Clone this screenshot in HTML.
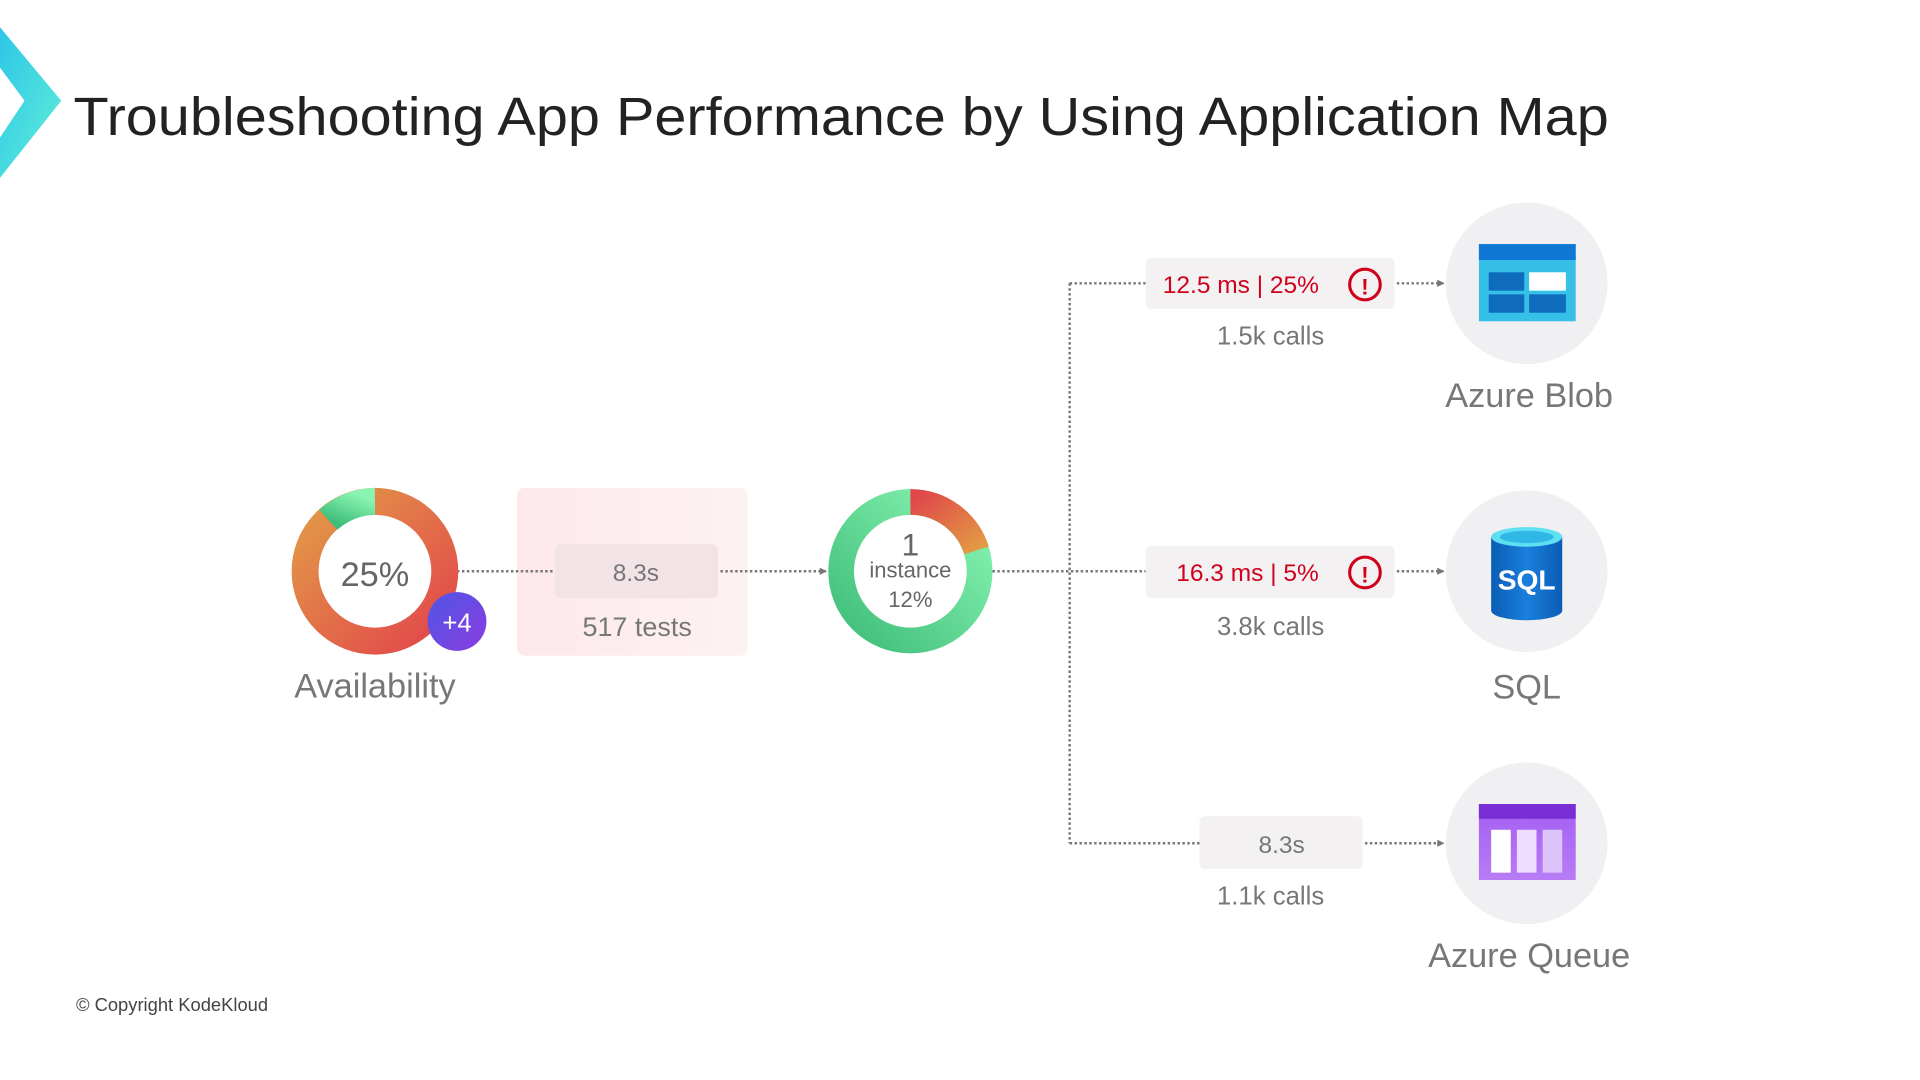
<!DOCTYPE html>
<html><head><meta charset="utf-8"><style>
html,body{margin:0;padding:0;background:#fff;width:1920px;height:1080px;overflow:hidden}
svg{display:block}
text{font-family:"Liberation Sans",sans-serif}
</style></head><body>
<svg width="1920" height="1080" viewBox="0 0 1567 881" xmlns="http://www.w3.org/2000/svg">
<defs>
<linearGradient id="chev" x1="0" y1="0" x2="1" y2="1"><stop offset="0" stop-color="#2ec5e8"/><stop offset="1" stop-color="#5ff0d8"/></linearGradient>
<linearGradient id="avail" x1="0" y1="0" x2="1" y2="1"><stop offset="0" stop-color="#e29a48"/><stop offset="1" stop-color="#e2464a"/></linearGradient>
<linearGradient id="grn" x1="0" y1="1" x2="1" y2="0"><stop offset="0" stop-color="#3ebd7a"/><stop offset="1" stop-color="#8af5b2"/></linearGradient>
<linearGradient id="red2" x1="0" y1="0" x2="1" y2="1"><stop offset="0" stop-color="#e0484a"/><stop offset="1" stop-color="#e39a44"/></linearGradient>
<linearGradient id="pur" x1="0" y1="0" x2="1" y2="1"><stop offset="0" stop-color="#4f56e6"/><stop offset="1" stop-color="#8a3ce0"/></linearGradient>
<linearGradient id="pink" x1="0" y1="0" x2="1" y2="0"><stop offset="0" stop-color="#fde8ec"/><stop offset="1" stop-color="#fdf2f2"/></linearGradient>
<linearGradient id="sqlg" x1="0" y1="0" x2="1" y2="0"><stop offset="0" stop-color="#0a5db5"/><stop offset="0.5" stop-color="#1a7fdc"/><stop offset="1" stop-color="#0a5db5"/></linearGradient>
<linearGradient id="qg" x1="0" y1="0" x2="0" y2="1"><stop offset="0" stop-color="#a35ef2"/><stop offset="1" stop-color="#b77cf5"/></linearGradient>
<marker id="ar" markerWidth="6" markerHeight="6" refX="5" refY="3" orient="auto" markerUnits="userSpaceOnUse"><path d="M0,0 L6,3 L0,6z" fill="#777"/></marker>
</defs>

<polygon points="0,22 50,82 0,145 0,112 20,82 0,55" fill="url(#chev)"/>
<text x="60" y="110" font-size="44" fill="#222" textLength="1253" lengthAdjust="spacingAndGlyphs">Troubleshooting App Performance by Using Application Map</text>

<rect x="422" y="398" width="188" height="137" rx="6" fill="url(#pink)"/>

<g stroke="#777" stroke-width="2" stroke-dasharray="2,2" fill="none">
<line x1="373" y1="466" x2="453" y2="466"/>
<line x1="588" y1="466" x2="674" y2="466" marker-end="url(#ar)"/>
<line x1="810" y1="466" x2="935" y2="466"/>
<line x1="873" y1="231" x2="873" y2="688"/>
<line x1="873" y1="231" x2="935" y2="231"/>
<line x1="873" y1="688" x2="979" y2="688"/>
<line x1="1140" y1="231" x2="1178" y2="231" marker-end="url(#ar)"/>
<line x1="1140" y1="466" x2="1178" y2="466" marker-end="url(#ar)"/>
<line x1="1114" y1="688" x2="1178" y2="688" marker-end="url(#ar)"/>
</g>

<circle cx="306" cy="466" r="57" fill="none" stroke="url(#avail)" stroke-width="22"/>
<path d="M306,409 A57,57 0 0 0 268,424" fill="none" stroke="url(#grn)" stroke-width="22"/>
<text x="306" y="478" font-size="28" fill="#666" text-anchor="middle">25%</text>
<circle cx="373" cy="507" r="24" fill="url(#pur)"/>
<text x="373" y="515" font-size="21" fill="#fff" text-anchor="middle">+4</text>
<text x="306" y="569" font-size="28" fill="#777" text-anchor="middle">Availability</text>

<rect x="453" y="444" width="133" height="44" rx="5" fill="#f1e3e6"/>
<text x="519" y="474" font-size="20" fill="#777" text-anchor="middle">8.3s</text>
<text x="520" y="519" font-size="22" fill="#777" text-anchor="middle">517 tests</text>

<circle cx="743" cy="466" r="56.5" fill="none" stroke="url(#grn)" stroke-width="21"/>
<path d="M743,409.5 A56.5,56.5 0 0 1 797,449" fill="none" stroke="url(#red2)" stroke-width="21"/>
<text x="743" y="453" font-size="26" fill="#666" text-anchor="middle">1</text>
<text x="743" y="471" font-size="18" fill="#666" text-anchor="middle">instance</text>
<text x="743" y="495" font-size="18" fill="#666" text-anchor="middle">12%</text>

<rect x="935" y="210" width="203" height="42" rx="4" fill="#f3f1f2"/>
<text x="949" y="239" font-size="20" fill="#d0021b">12.5 ms | 25%</text>
<circle cx="1114" cy="232" r="12.5" fill="none" stroke="#d0021b" stroke-width="2.5"/>
<text x="1114" y="240" font-size="18" font-weight="bold" fill="#d0021b" text-anchor="middle">!</text>
<text x="1037" y="281" font-size="21" fill="#777" text-anchor="middle">1.5k calls</text>
<circle cx="1246" cy="231" r="66" fill="#f0eff1"/>
<rect x="1207" y="199" width="79" height="63" fill="#36c0e8"/>
<rect x="1207" y="199" width="79" height="13" fill="#0f78d4"/>
<rect x="1215" y="222" width="29" height="15" fill="#0f6cbd"/>
<rect x="1248" y="222" width="30" height="15" fill="#fff"/>
<rect x="1215" y="240" width="29" height="15" fill="#0f6cbd"/>
<rect x="1248" y="240" width="30" height="15" fill="#0f6cbd"/>
<text x="1248" y="332" font-size="28" fill="#777" text-anchor="middle">Azure Blob</text>

<rect x="935" y="445" width="203" height="43" rx="4" fill="#f3f1f2"/>
<text x="960" y="474" font-size="20" fill="#d0021b">16.3 ms | 5%</text>
<circle cx="1114" cy="467" r="12.5" fill="none" stroke="#d0021b" stroke-width="2.5"/>
<text x="1114" y="475" font-size="18" font-weight="bold" fill="#d0021b" text-anchor="middle">!</text>
<text x="1037" y="518" font-size="21" fill="#777" text-anchor="middle">3.8k calls</text>
<circle cx="1246" cy="466" r="66" fill="#f0eff1"/>
<path d="M1217,438 L1217,498 A29,8 0 0 0 1275,498 L1275,438z" fill="url(#sqlg)"/>
<ellipse cx="1246" cy="438" rx="29" ry="8" fill="#5fe0f2"/>
<ellipse cx="1246" cy="438" rx="22" ry="5" fill="#2fb8e6"/>
<text x="1246" y="481" font-size="23" font-weight="bold" fill="#fff" text-anchor="middle">SQL</text>
<text x="1246" y="570" font-size="28" fill="#777" text-anchor="middle">SQL</text>

<rect x="979" y="666" width="133" height="43" rx="4" fill="#f3f1f2"/>
<text x="1046" y="696" font-size="20" fill="#777" text-anchor="middle">8.3s</text>
<text x="1037" y="738" font-size="21" fill="#777" text-anchor="middle">1.1k calls</text>
<circle cx="1246" cy="688" r="66" fill="#f0eff1"/>
<rect x="1207" y="656" width="79" height="62" fill="url(#qg)"/>
<rect x="1207" y="656" width="79" height="12" fill="#7a2fd6"/>
<rect x="1217" y="677" width="16" height="35" fill="#fff"/>
<rect x="1238" y="677" width="16" height="35" fill="#ecdcff"/>
<rect x="1259" y="677" width="16" height="35" fill="#dcc4fb"/>
<text x="1248" y="789" font-size="28" fill="#777" text-anchor="middle">Azure Queue</text>

<text x="62" y="825" font-size="15" fill="#444">© Copyright KodeKloud</text>
</svg>
</body></html>
